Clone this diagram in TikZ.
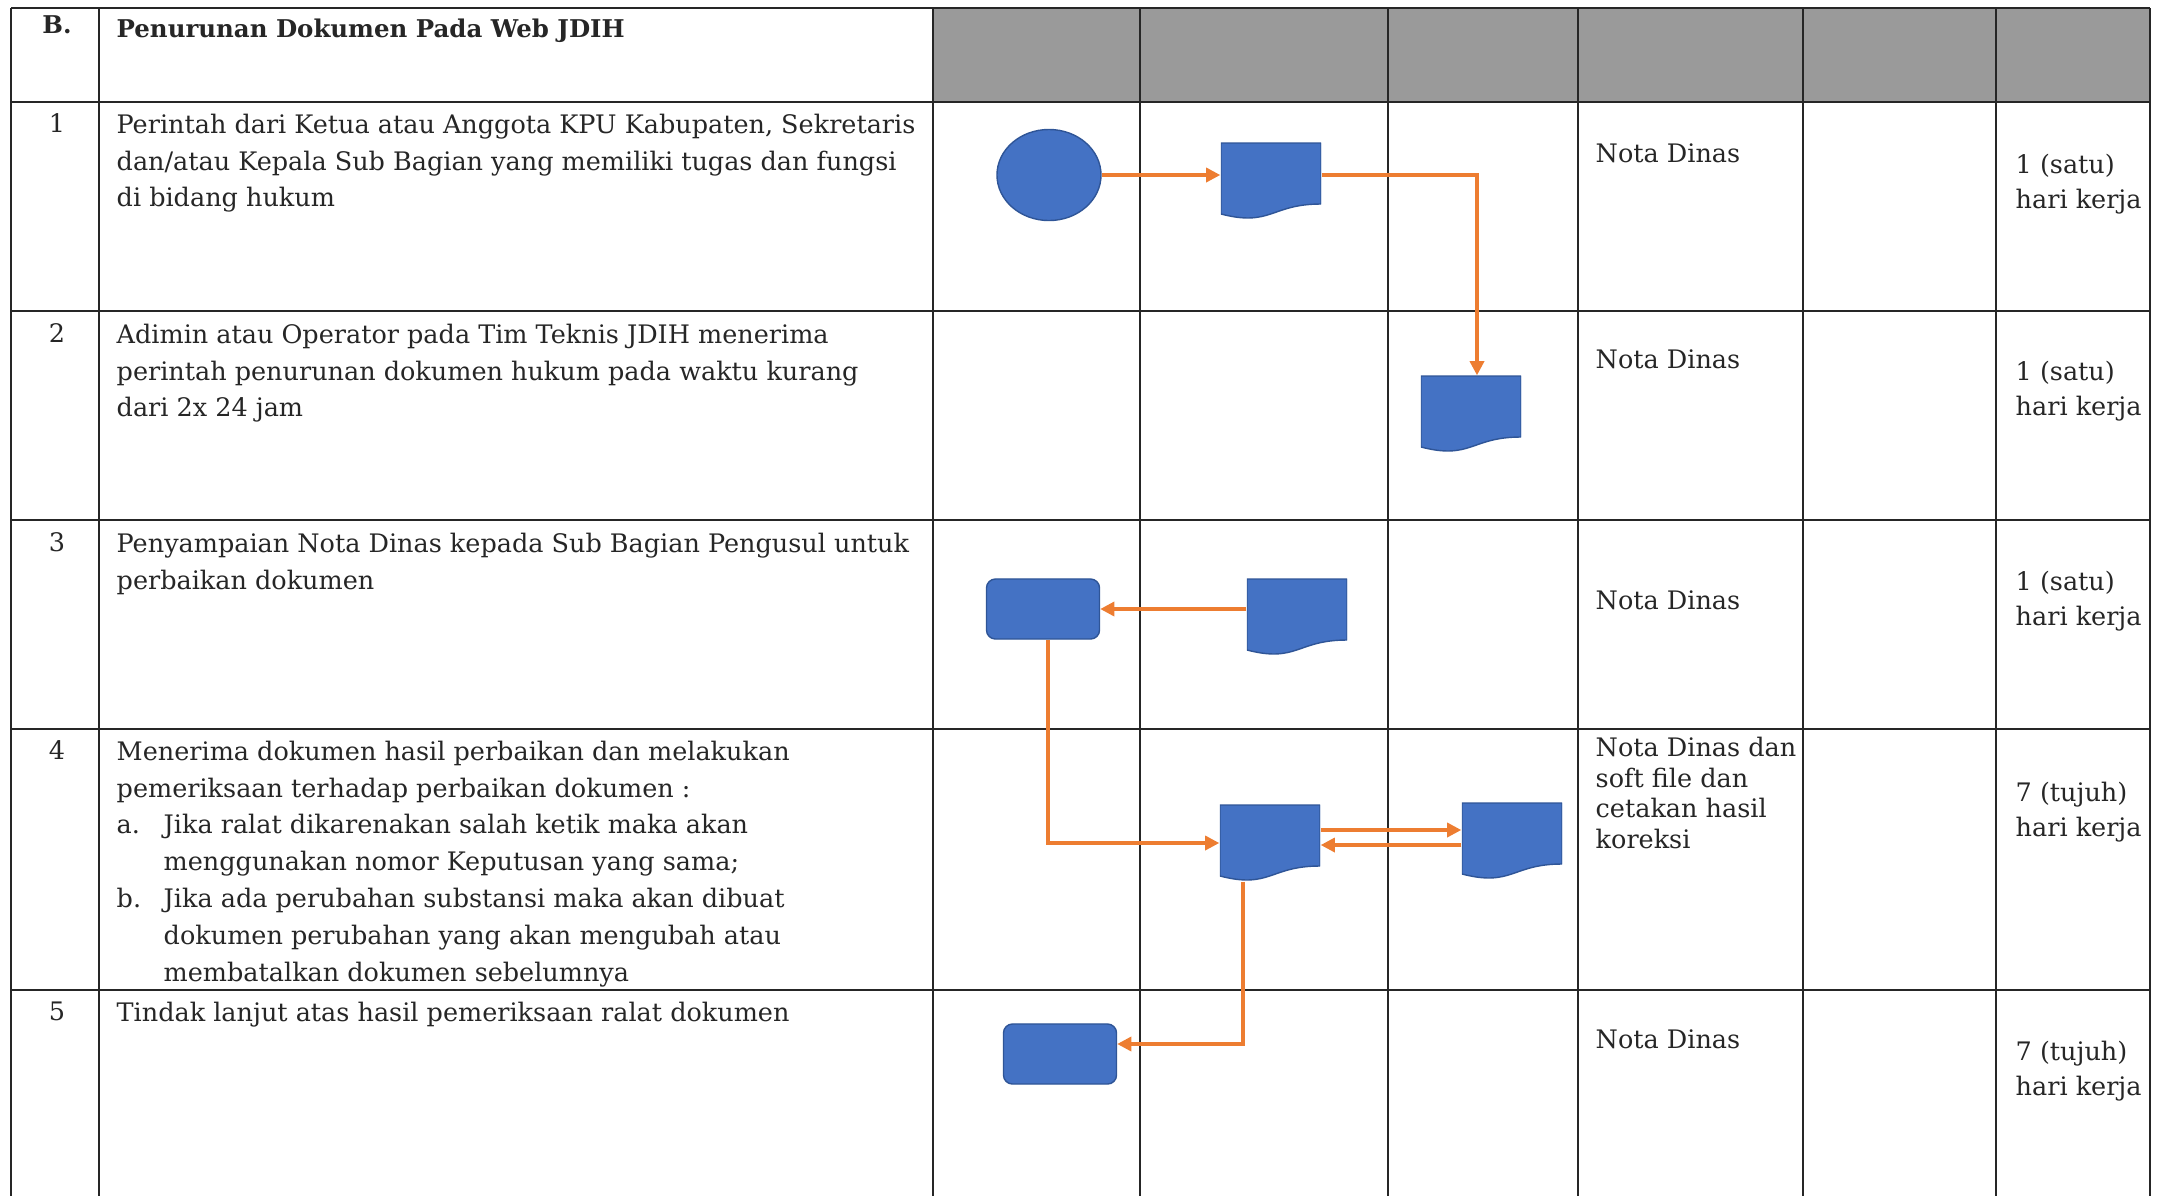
\documentclass[tikz,border=0pt]{standalone}
\usepackage{fontspec}
\setmainfont{DejaVu Serif}
\usetikzlibrary{shapes.geometric,arrows.meta,calc}
\definecolor{shapeblue}{HTML}{4472C4}
\definecolor{shapeedge}{HTML}{2F5597}
\definecolor{floworange}{HTML}{ED7D31}
\definecolor{headgray}{HTML}{9A9A9A}
\newcommand{\itm}[1]{\makebox[0.47cm][l]{#1}}

\begin{document}
\begin{tikzpicture}[x=0.01cm,y=-0.01cm]
    \useasboundingbox (0,0) rectangle (2162,1196);
    
    \tikzset{gridline/.style={draw=black!85,line width=0.7pt}}
    \tikzset{txt/.style={anchor=north west,inner sep=0pt,align=left,text=black!85,font=\fontsize{7.25}{10.5}\selectfont}}
    \tikzset{num/.style={anchor=north,inner sep=0pt,text=black!85,font=\fontsize{7.25}{10.5}\selectfont}}
    \tikzset{head/.style={txt,font=\fontsize{6.95}{10.5}\selectfont\bfseries}}
    \tikzset{flow/.style={draw=floworange,line width=0.9pt,-{Triangle[length=4pt,width=4pt]}}}
    \tikzset{shapebox/.style={fill=shapeblue,draw=shapeedge,line width=0.4pt}}
    \tikzset{startnode/.style={shapebox,ellipse,minimum width=1.04cm,minimum height=0.91cm,inner sep=0pt}}
    \tikzset{procbox/.style={shapebox,rounded corners=0.09cm,minimum width=1.13cm,minimum height=0.6cm,inner sep=0pt}}
    \tikzset{docbox/.style={minimum width=1cm,minimum height=0.76cm,inner sep=0pt,
        path picture={\filldraw[shapebox,shift={(path picture bounding box.center)}]
            (-50,-38) -- (50,-38) -- (50,23) .. controls (0,23) and (0,46) .. (-50,33) -- cycle;}}}
    
    % table
    \fill[headgray] (933,8) rectangle (2150,102);
    \foreach \y in {8,102,311,520,729,990}
        \draw[gridline] (11,\y) -- (2150,\y);
    \foreach \x in {11,99,933,1140,1388,1578,1803,1996,2150}
        \draw[gridline] (\x,8) -- (\x,1196);
    
    % header
    \node[num,font=\fontsize{6.95}{10.5}\selectfont\bfseries] (hnum) at (57,15) {B.};
    \node[head] (htitle) at (116,18) {Penurunan Dokumen Pada Web JDIH};
    
    % steps
    \node[num] (n1) at (57,113) {1};
    \node[txt] (s1) at (116,113) {Perintah dari Ketua atau Anggota KPU Kabupaten, Sekretaris\\dan/atau Kepala Sub Bagian yang memiliki tugas dan fungsi\\di bidang hukum};
    \node[num] (n2) at (57,323) {2};
    \node[txt] (s2) at (116,323) {Adimin atau Operator pada Tim Teknis JDIH menerima\\perintah penurunan dokumen hukum pada waktu kurang\\dari 2x 24 jam};
    \node[num] (n3) at (57,532) {3};
    \node[txt] (s3) at (116,532) {Penyampaian Nota Dinas kepada Sub Bagian Pengusul untuk\\perbaikan dokumen};
    \node[num] (n4) at (57,740) {4};
    \node[txt] (s4) at (116,740) {Menerima dokumen hasil perbaikan dan melakukan\\pemeriksaan terhadap perbaikan dokumen :\\\itm{a.}Jika ralat dikarenakan salah ketik maka akan\\\itm{}menggunakan nomor Keputusan yang sama;\\\itm{b.}Jika ada perubahan substansi maka akan dibuat\\\itm{}dokumen perubahan yang akan mengubah atau\\\itm{}membatalkan dokumen sebelumnya};
    \node[num] (n5) at (57,1001) {5};
    \node[txt] (s5) at (116,1001) {Tindak lanjut atas hasil pemeriksaan ralat dokumen};
    
    % output
    \node[txt] (o1) at (1595,143) {Nota Dinas};
    \node[txt] (o2) at (1595,349) {Nota Dinas};
    \node[txt] (o3) at (1595,590) {Nota Dinas};
    \node[txt,font=\fontsize{7.25}{8.8}\selectfont] (o4) at (1595,736) {Nota Dinas dan\\soft file dan\\cetakan hasil\\koreksi};
    \node[txt] (o5) at (1595,1029) {Nota Dinas};
    
    % time
    \node[txt,font=\fontsize{7.25}{10.2}\selectfont] (t1) at (2015,153) {1 (satu)\\hari kerja};
    \node[txt,font=\fontsize{7.25}{10.2}\selectfont] (t2) at (2015,360) {1 (satu)\\hari kerja};
    \node[txt,font=\fontsize{7.25}{10.2}\selectfont] (t3) at (2015,570) {1 (satu)\\hari kerja};
    \node[txt,font=\fontsize{7.25}{10.2}\selectfont] (t4) at (2015,781) {7 (tujuh)\\hari kerja};
    \node[txt,font=\fontsize{7.25}{10.2}\selectfont] (t5) at (2015,1040) {7 (tujuh)\\hari kerja};
    
    % flow shapes
    \node[startnode] (c1) at (1049,175) {};
    \node[docbox] (d1) at (1271,181) {};
    \node[docbox] (d2) at (1471,414) {};
    \node[procbox] (r3) at (1043,609) {};
    \node[docbox] (d3) at (1297,617) {};
    \node[docbox] (d4) at (1270,843) {};
    \node[docbox] (d5) at (1512,841) {};
    \node[procbox] (r5) at (1060,1054) {};
    
    \draw[flow] (c1.east) -- (c1.east -| d1.west);
    \draw[flow] (c1.east -| d1.east) -| ([xshift=0.6mm]d2.north);
    \draw[flow] (d3.west |- r3.east) -- (r3.east);
    \draw[flow] ([xshift=0.5mm]r3.south) |- (d4.west);
    \draw[flow] ([yshift=1.3mm]d4.east) -- ([yshift=1.3mm]d4.east -| d5.west);
    \draw[flow] ([yshift=-0.2mm]d4.east -| d5.west) -- ([yshift=-0.2mm]d4.east);
    \draw[flow] ([xshift=-2.7mm]d4.south) |- ([yshift=1mm]r5.east);
\end{tikzpicture}
\end{document}
